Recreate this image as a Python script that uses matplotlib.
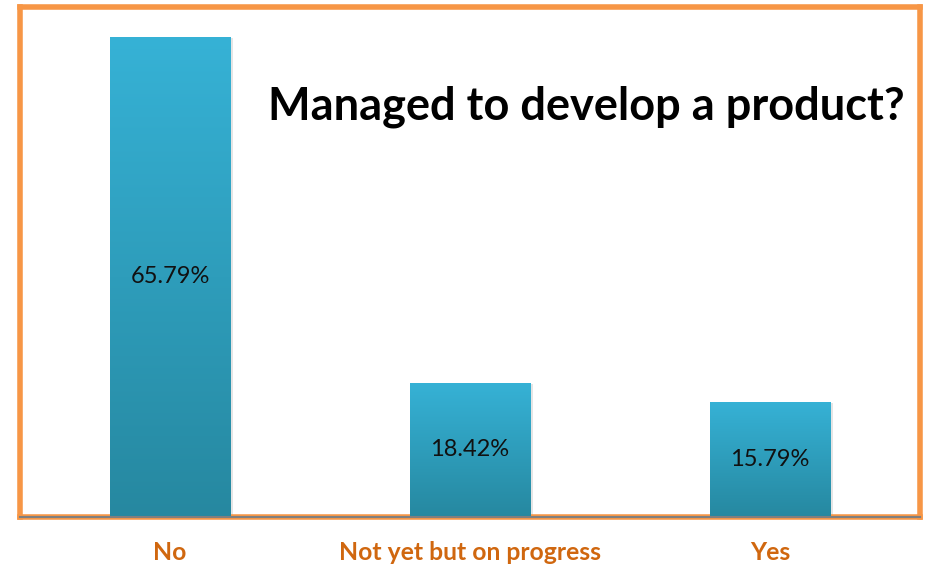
import numpy as np
import matplotlib
matplotlib.use('Agg')
import matplotlib.pyplot as plt
from matplotlib.colors import LinearSegmentedColormap

categories = ['No', 'Not yet but on progress', 'Yes']
values = [65.79, 18.42, 15.79]
labels = ['65.79%', '18.42%', '15.79%']

fig = plt.figure(figsize=(9.27, 5.67), dpi=100)
ax = fig.add_axes([0.0216, 0.0882, 0.9709, 0.8995])

x = np.arange(len(categories))
bars = ax.bar(x, values, 0.403, color='none', zorder=3)

# vertical gradient inside each bar
cmap = LinearSegmentedColormap.from_list('bar', ['#2688a0', '#36b2d6'])
grad = np.linspace(0, 1, 256).reshape(-1, 1)
for b in bars:
    x0, y0 = b.get_x(), b.get_y()
    w, h = b.get_width(), b.get_height()
    # soft shadow
    ax.add_patch(plt.Rectangle((x0 + 0.004, y0), w + 0.004, h - 0.2, color='#000000',
                               alpha=0.10, zorder=2, lw=0))
    im = ax.imshow(grad, extent=[x0, x0 + w, y0, y0 + h], origin='lower',
                   cmap=cmap, aspect='auto', zorder=3)
    im.set_clip_path(b)

for xi, v, lab in zip(x, values, labels):
    ax.text(xi, v / 2, lab, ha='center', va='center', fontsize=17,
            family='Lato', color='#111111', zorder=4)

ax.set_xlim(-0.5, 2.5)
ax.set_ylim(0, 69.9)
ax.set_yticks([])
ax.set_xticks(x)
ax.set_xticklabels(categories, fontsize=17.8, fontweight='bold', family='Lato',
                   color='#d0670f')
ax.tick_params(axis='x', length=0, pad=17)

for s in ['top', 'left', 'right']:
    ax.spines[s].set_color('#f79646')
    ax.spines[s].set_linewidth(4)
ax.spines['bottom'].set_color('#f79646')
ax.spines['bottom'].set_linewidth(4)
ax.axhline(0, color='#7f7f7f', lw=1.5, zorder=5, clip_on=False)

ax.text(0.629, 0.804, 'Managed to develop a product?', transform=ax.transAxes,
        ha='center', va='center', fontsize=32.5, fontweight='bold', family='Lato',
        color='black')

fig.savefig('out.png', dpi=100)
